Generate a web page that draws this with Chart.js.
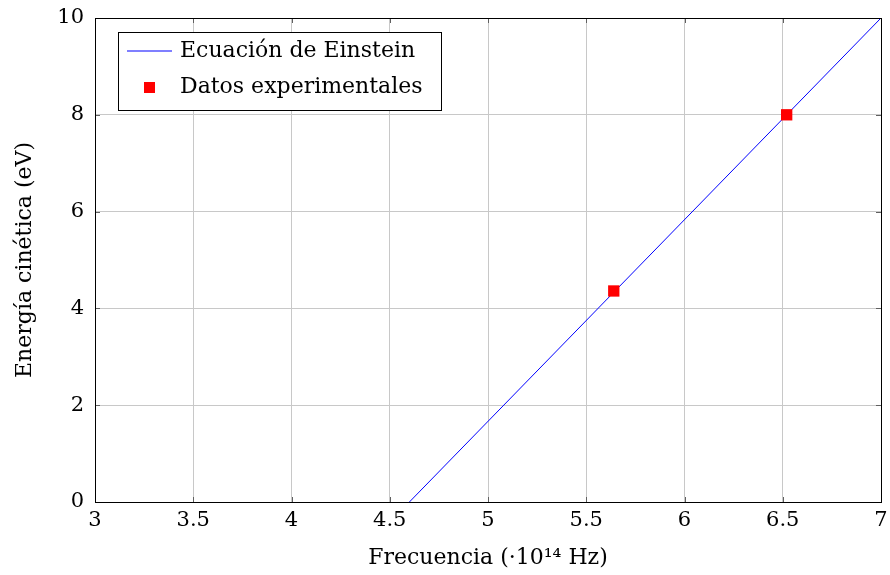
<!DOCTYPE html>
<html>
<head>
<meta charset="utf-8">
<script src="https://cdn.jsdelivr.net/npm/chart.js@4.4.0/dist/chart.umd.min.js"></script>
<style>
  body { margin: 0; background: #fff; }
  #wrap { width: 890px; height: 575px; }
</style>
</head>
<body>
<div id="wrap"><canvas id="chart"></canvas></div>
<script>
// Einstein line (frecuencia, energia)
var lineX = [4.6, 7];
var lineY = [0, 10];
// experimental points
var dataX = [5.64, 6.52];
var dataY = [4.36, 8.0];
var seriesNames = ["Ecuación de Einstein", "Datos experimentales"];

var serif = "'DejaVu Serif', 'Liberation Serif', serif";
var fsize = 22;
var tsize = 21;

function toPoints(xs, ys) {
  var pts = [];
  for (var i in xs) pts.push({ x: xs[i], y: ys[i] });
  return pts;
}

// box around the plot + small inward ticks + legend
var boxPlugin = {
  id: 'box',
  afterDraw: function(chart) {
    var ctx = chart.ctx, a = chart.chartArea;
    var xs = chart.scales.x, ys = chart.scales.y;
    ctx.save();
    ctx.strokeStyle = '#606060';
    ctx.lineWidth = 1;
    ctx.beginPath();
    xs.ticks.forEach(function(t) {
      var px = Math.round(xs.getPixelForValue(t.value)) + 0.5;
      ctx.moveTo(px, a.bottom); ctx.lineTo(px, a.bottom - 5);
      ctx.moveTo(px, a.top); ctx.lineTo(px, a.top + 5);
    });
    ys.ticks.forEach(function(t) {
      var py = Math.round(ys.getPixelForValue(t.value)) + 0.5;
      ctx.moveTo(a.left, py); ctx.lineTo(a.left + 5, py);
      ctx.moveTo(a.right, py); ctx.lineTo(a.right - 5, py);
    });
    ctx.stroke();
    ctx.strokeStyle = '#000';
    ctx.strokeRect(Math.round(a.left) + 0.5, Math.round(a.top) + 0.5,
                   Math.round(a.right - a.left), Math.round(a.bottom - a.top));

    // legend box
    var lx = 118.5, ly = 32.5, lw = 323, lh = 78;
    ctx.fillStyle = '#fff';
    ctx.fillRect(lx, ly, lw, lh);
    ctx.strokeStyle = '#000';
    ctx.strokeRect(lx, ly, lw, lh);
    ctx.beginPath();
    ctx.strokeStyle = '#0000ff';
    ctx.lineWidth = 1.2;
    ctx.moveTo(127, 51); ctx.lineTo(172, 51);
    ctx.stroke();
    ctx.fillStyle = '#ff0000';
    ctx.fillRect(144, 82, 11, 11);
    ctx.fillStyle = '#000';
    ctx.font = fsize + 'px ' + serif;
    ctx.textBaseline = 'middle';
    ctx.fillText(seriesNames[0], 180, 51);
    ctx.fillText(seriesNames[1], 180, 87);
    ctx.restore();
  }
};

var ctx = document.getElementById('chart');
var chart = new Chart(ctx, {
  type: 'scatter',
  data: {
    datasets: [
      {
        label: seriesNames[0],
        data: toPoints(lineX, lineY),
        showLine: true,
        borderColor: '#0000ff',
        borderWidth: 1,
        pointRadius: 0,
        fill: false,
        order: 2
      },
      {
        label: seriesNames[1],
        data: toPoints(dataX, dataY),
        pointStyle: 'rect',
        pointRadius: 8,
        backgroundColor: '#ff0000',
        borderColor: '#ff0000',
        borderWidth: 0,
        order: 1
      }
    ]
  },
  options: {
    responsive: true,
    maintainAspectRatio: false,
    animation: false,
    layout: { padding: { top: 18, right: 9, left: 0, bottom: 0 } },
    plugins: { legend: { display: false }, tooltip: { enabled: false } },
    scales: {
      x: {
        type: 'linear',
        min: 3, max: 7,
        ticks: { stepSize: 0.5, color: '#000', padding: 6,
                 font: { family: serif, size: tsize },
                 callback: function(v) { return String(v); } },
        grid: { color: '#c8c8c8', drawTicks: false },
        border: { display: false },
        title: { display: true, text: 'Frecuencia (·10¹⁴ Hz)', color: '#000',
                 font: { family: serif, size: fsize }, padding: { top: 4, bottom: 4 } },
        afterFit: function(s) { s.height = 73; s.paddingLeft = 0; s.paddingRight = 0; }
      },
      y: {
        min: 0, max: 10,
        ticks: { stepSize: 2, color: '#000', padding: 11,
                 font: { family: serif, size: tsize } },
        grid: { color: '#c8c8c8', drawTicks: false },
        border: { display: false },
        title: { display: true, text: 'Energía cinética (eV)', color: '#000',
                 font: { family: serif, size: fsize }, padding: { top: 12, bottom: 4 } },
        afterFit: function(s) { s.width = 95; s.paddingTop = 0; s.paddingBottom = 0; }
      }
    }
  },
  plugins: [boxPlugin]
});
</script>
</body>
</html>
